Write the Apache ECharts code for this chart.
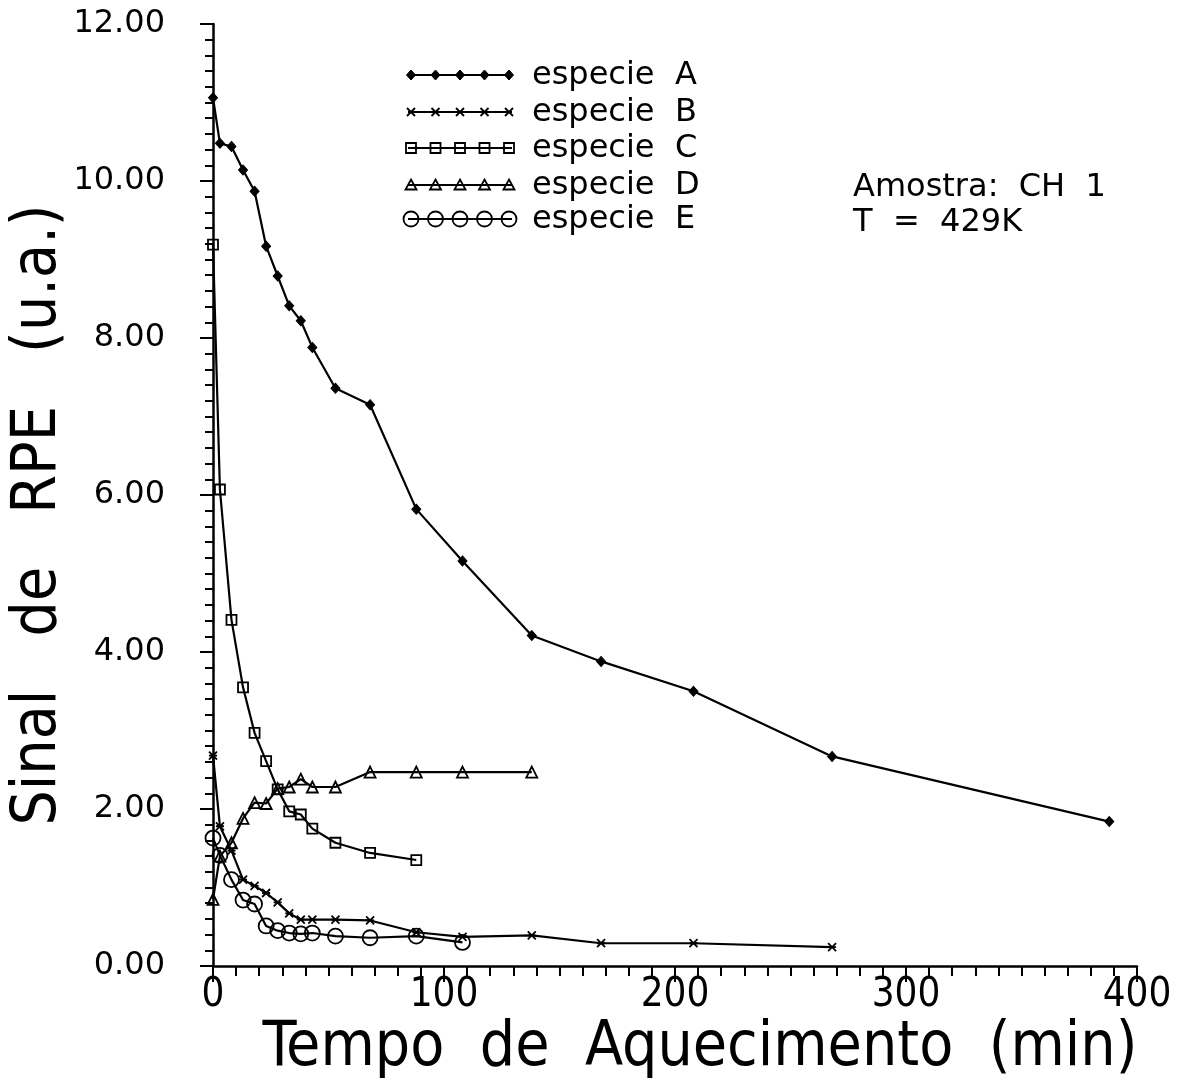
<!DOCTYPE html>
<html>
<head>
<meta charset="utf-8">
<title>Sinal de RPE vs Tempo de Aquecimento</title>
<script src="https://cdn.jsdelivr.net/npm/echarts@6/dist/echarts.min.js"></script>
<style>
  html, body { margin: 0; padding: 0; background: #fff; }
  #chart { width: 1185px; height: 1088px; }
</style>
</head>
<body>
<div id="chart"></div>
<script>
// Heating times (min) at which the EPR signal was measured
const times = [0, 3, 8, 13, 18, 23, 28, 33, 38, 43, 53, 68, 88, 108, 138, 168, 208, 268, 388];

// EPR signal (a.u.) of each species, one value per time above
const especieA = [11.06, 10.48, 10.44, 10.14, 9.87, 9.17, 8.79, 8.41, 8.22, 7.88, 7.36, 7.15, 5.82, 5.16, 4.21, 3.88, 3.50, 2.67, 1.84];
const especieB = [2.68, 1.78, 1.47, 1.10, 1.02, 0.93, 0.81, 0.67, 0.59, 0.59, 0.59, 0.58, 0.43, 0.37, 0.39, 0.29, 0.29, 0.24];
const especieC = [9.19, 6.07, 4.41, 3.55, 2.97, 2.61, 2.25, 1.97, 1.93, 1.75, 1.57, 1.44, 1.35];
const especieD = [0.85, 1.40, 1.57, 1.88, 2.08, 2.07, 2.26, 2.28, 2.38, 2.28, 2.28, 2.47, 2.47, 2.47, 2.47];
const especieE = [1.63, 1.41, 1.10, 0.84, 0.79, 0.51, 0.45, 0.42, 0.41, 0.42, 0.38, 0.36, 0.38, 0.30];

const seriesNames = ['especie  A', 'especie  B', 'especie  C', 'especie  D', 'especie  E'];
const seriesValues = [especieA, especieB, especieC, especieD, especieE];
const symbolKinds = ['diamond', 'cross', 'square', 'triangle', 'circle'];

// Axis ranges and tick steps
const xRange = [0, 400];
const xStep = 100;
const yRange = [0, 12];
const yStep = 2;

const annotationLines = ['Amostra:  CH  1', 'T  =  429K'];

const TITLE_FONT = '"DejaVu Sans Condensed", "Liberation Sans", sans-serif';
const TEXT_FONT = '"DejaVu Sans", "Liberation Sans", sans-serif';

function toPairs(vals) {
  return vals.map((v, i) => [times[i], v]);
}

const hollow = { color: 'rgba(0,0,0,0)', borderColor: '#000', borderWidth: 1.8 };
const symbolStyles = {
  diamond:  { symbol: 'diamond', symbolSize: [9, 10], itemStyle: { color: '#000', borderColor: '#000', borderWidth: 1 } },
  cross:    { symbol: 'path://M0,0L10,10M10,0L0,10M0,5L10,5', symbolSize: 8, itemStyle: { color: 'rgba(0,0,0,0)', borderColor: '#000', borderWidth: 1.8 } },
  square:   { symbol: 'rect', symbolSize: 10, itemStyle: hollow },
  triangle: { symbol: 'triangle', symbolSize: 11, itemStyle: hollow },
  circle:   { symbol: 'circle', symbolSize: 15, itemStyle: hollow }
};

const series = seriesValues.map((vals, i) => {
  const st = symbolStyles[symbolKinds[i]];
  return {
    name: seriesNames[i],
    type: 'line',
    data: toPairs(vals),
    symbol: st.symbol,
    symbolSize: st.symbolSize,
    showSymbol: true,
    itemStyle: st.itemStyle,
    lineStyle: { color: '#000', width: 2.2 },
    emphasis: { disabled: true },
    z: 2 + i
  };
});

// Hand-drawn legend: a sample line with five markers, then the label
const legendX0 = 408, legendX1 = 512, legendTextX = 532;
const legendRowY = [75, 112, 148, 185, 219];

function markerShape(kind, cx, cy) {
  const stroke = { stroke: '#000', lineWidth: 1.8, fill: 'rgba(0,0,0,0)' };
  switch (kind) {
    case 'diamond':
      return { type: 'polygon', shape: { points: [[cx, cy - 5], [cx + 4.5, cy], [cx, cy + 5], [cx - 4.5, cy]] }, style: { fill: '#000', stroke: '#000' } };
    case 'cross':
      return { type: 'polyline', shape: { points: [[cx - 4, cy - 4], [cx + 4, cy + 4], [cx, cy], [cx + 4, cy - 4], [cx - 4, cy + 4]] }, style: { stroke: '#000', lineWidth: 1.8, fill: null } };
    case 'square':
      return { type: 'rect', shape: { x: cx - 5, y: cy - 5, width: 10, height: 10 }, style: stroke };
    case 'triangle':
      return { type: 'polygon', shape: { points: [[cx, cy - 5.5], [cx + 5.5, cy + 4.5], [cx - 5.5, cy + 4.5]] }, style: stroke };
    default:
      return { type: 'circle', shape: { cx: cx, cy: cy, r: 7.5 }, style: stroke };
  }
}

const graphics = [];
seriesNames.forEach((name, i) => {
  const y = legendRowY[i];
  graphics.push({ type: 'line', shape: { x1: legendX0, y1: y, x2: legendX1, y2: y }, style: { stroke: '#000', lineWidth: 2.2 } });
  for (let k = 0; k < 5; k++) {
    graphics.push(markerShape(symbolKinds[i], legendX0 + 3 + k * 24.5, y));
  }
  graphics.push({
    type: 'text', x: legendTextX, y: y + 1,
    style: { text: name, font: '32px ' + TEXT_FONT, fill: '#000', textVerticalAlign: 'middle', textAlign: 'left' }
  });
});
annotationLines.forEach((line, i) => {
  graphics.push({
    type: 'text', x: 853, y: 188 + i * 35,
    style: { text: line, font: '32px ' + TEXT_FONT, fill: '#000', textVerticalAlign: 'middle', textAlign: 'left' }
  });
});

const chart = echarts.init(document.getElementById('chart'), null, { renderer: 'canvas' });
chart.setOption({
  animation: false,
  backgroundColor: '#fff',
  grid: { left: 213, top: 24, right: 48, bottom: 122, containLabel: false, outerBoundsMode: 'none' },
  xAxis: {
    type: 'value',
    min: xRange[0], max: xRange[1], interval: xStep,
    name: 'Tempo  de  Aquecimento  (min)',
    nameLocation: 'middle',
    nameGap: 52,
    nameMoveOverlap: false,
    nameTextStyle: { fontFamily: TITLE_FONT, fontSize: 62, color: '#000', padding: [0, 0, 0, 50] },
    axisLine: { show: true, onZero: false, lineStyle: { color: '#000', width: 2.5 } },
    axisTick: { show: true, inside: false, length: 16, lineStyle: { color: '#000', width: 2 } },
    minorTick: { show: true, splitNumber: 10, length: 10, lineStyle: { color: '#000', width: 2 } },
    splitLine: { show: false },
    axisLabel: { margin: 10, fontFamily: TITLE_FONT, fontSize: 40, color: '#000' }
  },
  yAxis: {
    type: 'value',
    min: yRange[0], max: yRange[1], interval: yStep,
    name: 'Sinal   de   RPE   (u.a.)',
    nameLocation: 'middle',
    nameRotate: 90,
    nameGap: 143,
    nameMoveOverlap: false,
    nameTextStyle: { fontFamily: TITLE_FONT, fontSize: 62, color: '#000', padding: [0, 40, 0, 0] },
    axisLine: { show: true, onZero: false, lineStyle: { color: '#000', width: 2.5 } },
    axisTick: { show: true, inside: false, length: 13, lineStyle: { color: '#000', width: 2 } },
    minorTick: { show: true, splitNumber: 10, length: 8, lineStyle: { color: '#000', width: 2 } },
    splitLine: { show: false },
    axisLabel: { margin: 48, fontFamily: TEXT_FONT, fontSize: 32, color: '#000', formatter: v => v.toFixed(2) }
  },
  graphic: graphics,
  series: series
});
</script>
</body>
</html>
